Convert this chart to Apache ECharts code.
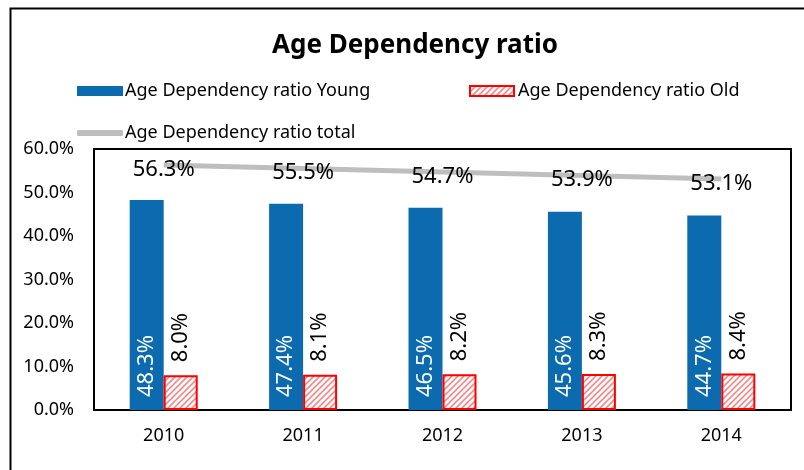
<!DOCTYPE html>
<html>
<head>
<meta charset="utf-8">
<script src="https://cdn.jsdelivr.net/npm/echarts@6/dist/echarts.min.js"></script>
<style>
  html, body { margin: 0; padding: 0; background: #fff; }
  #chart { width: 804px; height: 470px; }
</style>
</head>
<body>
<div id="chart"></div>
<script>
var years = ['2010', '2011', '2012', '2013', '2014'];
var youngRatio = [48.3, 47.4, 46.5, 45.6, 44.7];
var oldRatio = [8.0, 8.1, 8.2, 8.3, 8.4];
var totalRatio = [56.3, 55.5, 54.7, 53.9, 53.1];

var FONT = 'Noto Sans';

// hatch fill for the "Old" bars
function hatch() {
    var c = document.createElement('canvas');
    c.width = 6; c.height = 6;
    var ctx = c.getContext('2d');
    ctx.fillStyle = '#ffffff';
    ctx.fillRect(0, 0, 6, 6);
    ctx.strokeStyle = '#f58a8a';
    ctx.lineWidth = 1.6;
    ctx.beginPath();
    ctx.moveTo(-1, 7); ctx.lineTo(7, -1);
    ctx.moveTo(-4, 4); ctx.lineTo(4, -4);
    ctx.moveTo(2, 10); ctx.lineTo(10, 2);
    ctx.stroke();
    return c;
}

var chart = echarts.init(document.getElementById('chart'));
var pct = function (v) { return v.toFixed(1) + '%'; };

var option = {
    animation: false,
    textStyle: { fontFamily: FONT },
    title: {
        text: 'Age Dependency ratio',
        left: 410,
        top: 28,
        textAlign: 'center',
        textStyle: { fontFamily: FONT, fontSize: 26, fontWeight: 'bold', color: '#000' }
    },
    legend: [{
        data: ['Age Dependency ratio Young'],
        left: 77, top: 82, padding: 0,
        itemWidth: 46, itemHeight: 10,
        icon: 'rect',
        textStyle: { fontSize: 18, color: '#000', padding: [0, 0, 0, -3] }
    }, {
        data: ['Age Dependency ratio Old'],
        left: 469, top: 82, padding: 0,
        itemWidth: 44, itemHeight: 10,
        icon: 'rect',
        textStyle: { fontSize: 18, color: '#000', padding: [0, 0, 0, -1] }
    }, {
        data: [{ name: 'Age Dependency ratio total', icon: 'roundRect', itemStyle: { color: '#BEBEBE' } }],
        left: 77, top: 124, padding: 0,
        itemWidth: 46, itemHeight: 6,
        textStyle: { fontSize: 18, color: '#000', padding: [0, 0, 0, -3] }
    }],
    grid: {
        left: 94, right: 13, top: 149, bottom: 60,
        show: true, borderColor: '#000', borderWidth: 2,
        backgroundColor: 'transparent'
    },
    xAxis: {
        type: 'category',
        data: years,
        axisLine: { show: false },
        axisTick: { show: false },
        axisLabel: { fontSize: 18, color: '#000', margin: 17 }
    },
    yAxis: {
        type: 'value',
        min: 0, max: 60, interval: 10,
        axisLine: { show: false },
        axisTick: { show: false },
        splitLine: { show: false },
        axisLabel: { fontSize: 18, color: '#000', margin: 20, formatter: pct }
    },
    graphic: [{
        type: 'rect',
        left: 8, top: 6,
        shape: { width: 900, height: 600 },
        style: { fill: 'none', stroke: '#000', lineWidth: 2 },
        silent: true
    }],
    series: [{
        name: 'Age Dependency ratio Young',
        type: 'bar',
        data: youngRatio,
        barWidth: 34,
        barGap: '0%',
        itemStyle: { color: '#0B6BAE' },
        label: {
            show: true,
            position: 'insideBottom',
            rotate: 90,
            align: 'left',
            verticalAlign: 'middle',
            distance: 13,
            fontSize: 22,
            color: '#fff',
            formatter: function (p) { return pct(p.value); }
        }
    }, {
        name: 'Age Dependency ratio Old',
        type: 'bar',
        data: oldRatio,
        barWidth: 34,
        barGap: '0%',
        itemStyle: {
            color: { image: hatch(), repeat: 'repeat' },
            borderColor: '#ff0000',
            borderWidth: 2
        },
        label: {
            show: true,
            position: 'top',
            rotate: 90,
            align: 'left',
            verticalAlign: 'middle',
            distance: 13,
            fontSize: 22,
            color: '#000',
            formatter: function (p) { return pct(p.value); }
        }
    }, {
        name: 'Age Dependency ratio total',
        type: 'line',
        data: totalRatio,
        symbol: 'circle',
        symbolSize: 1,
        showSymbol: true,
        lineStyle: { color: '#BEBEBE', width: 5 },
        itemStyle: { color: 'transparent' },
        z: 3,
        label: {
            show: true,
            position: 'top',
            distance: 0,
            offset: [0, 16],
            fontSize: 22,
            color: '#000',
            formatter: function (p) { return pct(p.value); }
        }
    }]
};
chart.setOption(option);
</script>
</body>
</html>
